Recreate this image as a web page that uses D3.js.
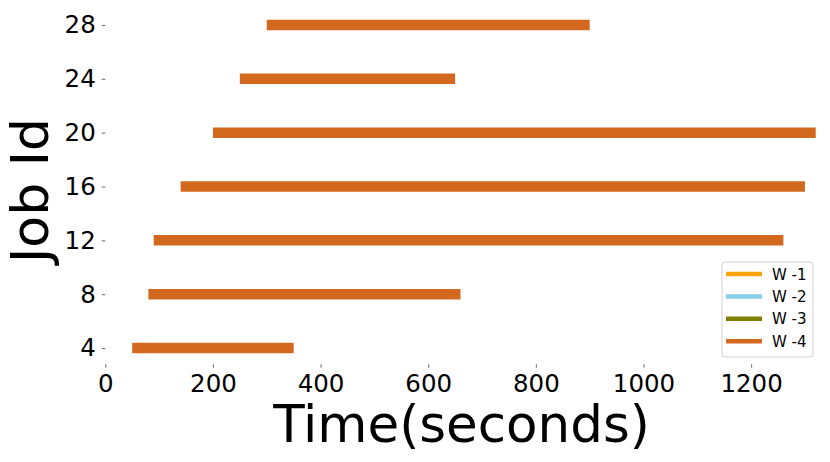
<!DOCTYPE html>
<html>
<head>
<meta charset="utf-8">
<script src="https://cdn.jsdelivr.net/npm/d3@7"></script>
<style>
  html, body { margin: 0; padding: 0; background: #fff; }
  svg { display: block; font-family: "DejaVu Sans", sans-serif; }
</style>
</head>
<body>
<svg id="chart" width="830" height="462"></svg>
<script>
// ---- data ----
const jobIds    = [4, 8, 12, 16, 20, 24, 28];
const startTime = [50, 80, 90, 140, 200, 250, 300];
const endTime   = [350, 660, 1260, 1300, 1320, 650, 900];
const worker    = ["W -4", "W -4", "W -4", "W -4", "W -4", "W -4", "W -4"];
const legendLabels = ["W -1", "W -2", "W -3", "W -4"];
const legendColors = ["#FFA500", "#87CEEB", "#808000", "#D2691E"];
const xTicks = [0, 200, 400, 600, 800, 1000, 1200];
const yTicks = [4, 8, 12, 16, 20, 24, 28];

const svg = d3.select("#chart");

const x = d3.scaleLinear().domain([0, 1320]).range([105.3, 815.7]);
const y = d3.scaleLinear().domain([2.8, 29.2]).range([364.2, 8.8]);
const color = d3.scaleOrdinal().domain(legendLabels).range(legendColors);

// bars (horizontal lines)
svg.append("g").selectAll("line")
  .data(jobIds.map((d, i) => ({ id: d, s: startTime[i], e: endTime[i], w: worker[i] })))
  .join("line")
  .attr("x1", d => x(d.s))
  .attr("x2", d => x(d.e))
  .attr("y1", d => y(d.id))
  .attr("y2", d => y(d.id))
  .attr("stroke", d => color(d.w))
  .attr("stroke-width", 10.5)
  .attr("stroke-linecap", "butt");

// x axis
const xAxis = svg.append("g")
  .attr("transform", `translate(0,${y(2.8)})`)
  .call(d3.axisBottom(x).tickValues(xTicks).tickSize(3.5).tickPadding(7).tickFormat(d3.format("d")));
xAxis.select(".domain").remove();
xAxis.selectAll(".tick line").attr("stroke", "#444").attr("stroke-width", 0.8);
xAxis.selectAll(".tick text").attr("font-size", 24.5).attr("fill", "#000")
  .attr("font-family", "DejaVu Sans");

// y axis
const yAxis = svg.append("g")
  .attr("transform", `translate(${x(0)},0)`)
  .call(d3.axisLeft(y).tickValues(yTicks).tickSize(3.5).tickPadding(6).tickFormat(d3.format("d")));
yAxis.select(".domain").remove();
yAxis.selectAll(".tick line").attr("stroke", "#444").attr("stroke-width", 0.8);
yAxis.selectAll(".tick text").attr("font-size", 24.5).attr("fill", "#000")
  .attr("font-family", "DejaVu Sans");

// axis titles
svg.append("text")
  .attr("x", (x.range()[0] + x.range()[1]) / 2 + 1)
  .attr("y", 442)
  .attr("text-anchor", "middle")
  .attr("font-size", 51.5)
  .attr("fill", "#000")
  .text("Time(seconds)");

svg.append("text")
  .attr("transform", `translate(48,${(y.range()[0] + y.range()[1]) / 2 + 4}) rotate(-90)`)
  .attr("text-anchor", "middle")
  .attr("font-size", 52)
  .attr("fill", "#000")
  .text("Job Id");

// legend
const lg = svg.append("g").attr("transform", "translate(722,262)");
lg.append("rect")
  .attr("width", 91).attr("height", 95)
  .attr("rx", 3).attr("ry", 3)
  .attr("fill", "#fff").attr("fill-opacity", 0.8)
  .attr("stroke", "#d0d0d0").attr("stroke-width", 1);
const items = lg.selectAll("g.item")
  .data(legendLabels)
  .join("g")
  .attr("class", "item")
  .attr("transform", (d, i) => `translate(0,${12 + i * 22.4})`);
items.append("line")
  .attr("x1", 4).attr("x2", 40)
  .attr("stroke", d => color(d))
  .attr("stroke-width", 4.5);
items.append("text")
  .attr("x", 50).attr("y", 5.5)
  .attr("font-size", 15)
  .attr("fill", "#000")
  .text(d => d);
</script>
</body>
</html>
